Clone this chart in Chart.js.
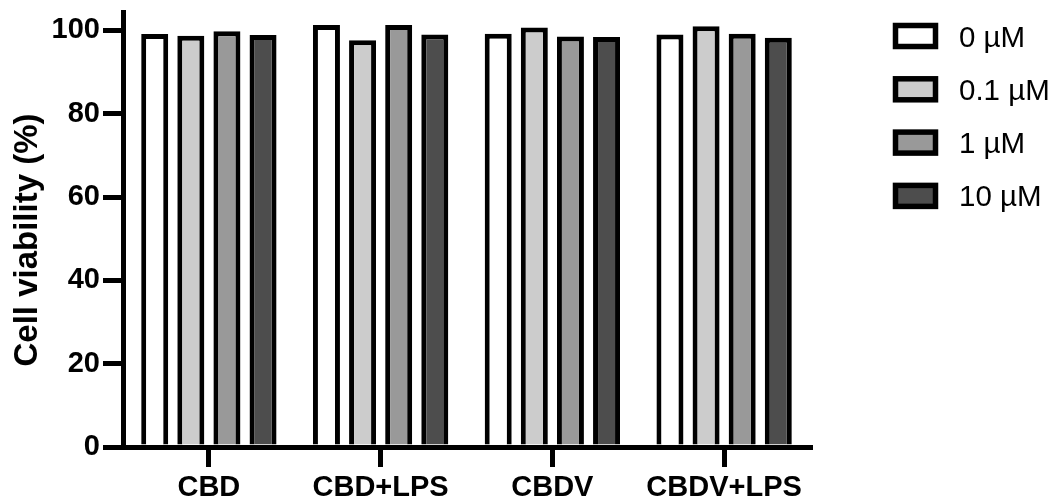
<!DOCTYPE html>
<html>
<head>
<meta charset="utf-8">
<script src="https://cdn.jsdelivr.net/npm/chart.js@4.4.0/dist/chart.umd.min.js"></script>
<style>
  html, body { margin: 0; padding: 0; background: #ffffff; }
  #wrap { width: 1056px; height: 503px; }
</style>
</head>
<body>
<div id="wrap"><canvas id="c" width="1056" height="503"></canvas></div>
<script>
// Treatment groups along the x axis
const categories = ['CBD', 'CBD+LPS', 'CBDV', 'CBDV+LPS'];
// Dose series (legend labels) and their bar fills
const doseLabels = ['0 µM', '0.1 µM', '1 µM', '10 µM'];
const doseFills = ['#ffffff', '#cccccc', '#999999', '#4d4d4d'];
// Cell viability (%) per group, one array per dose
const dose0 = [99.1, 101.3, 99.2, 99.0];
const dose01 = [98.7, 97.6, 100.7, 101.0];
const dose1 = [99.8, 101.3, 98.5, 99.2];
const dose10 = [98.9, 99.0, 98.4, 98.2];
// Y axis ticks and title
const yTicks = [0, 20, 40, 60, 80, 100];
const yMax = 104.4;
const yTitle = 'Cell viability (%)';

const series = [dose0, dose01, dose1, dose10];
const FONT = '"Liberation Sans", Arial, Helvetica, sans-serif';

// Rotated y-axis title, centred a little below the plot middle
const yTitlePlugin = {
  id: 'yTitlePlugin',
  afterDraw(chart) {
    const ctx = chart.ctx;
    ctx.save();
    ctx.translate(37, 240);
    ctx.rotate(-Math.PI / 2);
    ctx.font = 'bold 33px ' + FONT;
    ctx.fillStyle = '#000000';
    ctx.textAlign = 'center';
    ctx.textBaseline = 'alphabetic';
    ctx.fillText(yTitle, 0, 0);
    ctx.restore();
  }
};

// Legend column to the right of the plot: outlined swatch + label per dose
const doseLegend = {
  id: 'doseLegend',
  afterDraw(chart) {
    const ctx = chart.ctx;
    chart.data.datasets.forEach((ds, i) => {
      const cy = 36 + i * 53.3;
      ctx.save();
      ctx.fillStyle = ds.backgroundColor;
      ctx.strokeStyle = '#000000';
      ctx.lineWidth = 5.5;
      ctx.fillRect(895.5, cy - 10.5, 40, 21);
      ctx.strokeRect(895.5, cy - 10.5, 40, 21);
      ctx.font = '29.5px ' + FONT;
      ctx.fillStyle = '#000000';
      ctx.textAlign = 'left';
      ctx.textBaseline = 'alphabetic';
      ctx.fillText(ds.label, 959, cy + 10.5);
      ctx.restore();
    });
  }
};

new Chart(document.getElementById('c'), {
  type: 'bar',
  data: {
    labels: categories,
    datasets: series.map((vals, i) => ({
      label: doseLabels[i],
      data: vals,
      backgroundColor: doseFills[i],
      borderColor: '#000000',
      borderWidth: 5,
      categoryPercentage: 0.841,
      barPercentage: 0.748
    }))
  },
  options: {
    responsive: false,
    devicePixelRatio: 1,
    animation: false,
    events: [],
    layout: { padding: { left: 0, top: 12, right: 246, bottom: 0 } },
    plugins: {
      legend: { display: false },
      tooltip: { enabled: false }
    },
    scales: {
      x: {
        type: 'category',
        offset: true,
        grid: {
          offset: false,
          drawOnChartArea: false,
          drawTicks: true,
          tickLength: 20,
          lineWidth: 5,
          color: '#000000'
        },
        border: { display: true, width: 5, color: '#000000' },
        ticks: {
          autoSkip: false,
          maxRotation: 0,
          minRotation: 0,
          padding: 4,
          color: '#000000',
          font: { family: FONT, size: 29, weight: 'bold' }
        },
        afterFit(scale) { scale.height = 56; }
      },
      y: {
        type: 'linear',
        min: 0,
        max: yMax,
        afterBuildTicks(scale) { scale.ticks = yTicks.map(v => ({ value: v })); },
        grid: {
          drawOnChartArea: false,
          drawTicks: true,
          tickLength: 20,
          lineWidth: 5,
          color: '#000000'
        },
        border: { display: true, width: 5, color: '#000000' },
        ticks: {
          padding: 3,
          color: '#000000',
          font: { family: FONT, size: 29, weight: 'bold' }
        },
        afterFit(scale) {
          scale.width = 123;
          scale.paddingTop = 0;
          scale.paddingBottom = 0;
        }
      }
    }
  },
  plugins: [yTitlePlugin, doseLegend]
});
</script>
</body>
</html>
